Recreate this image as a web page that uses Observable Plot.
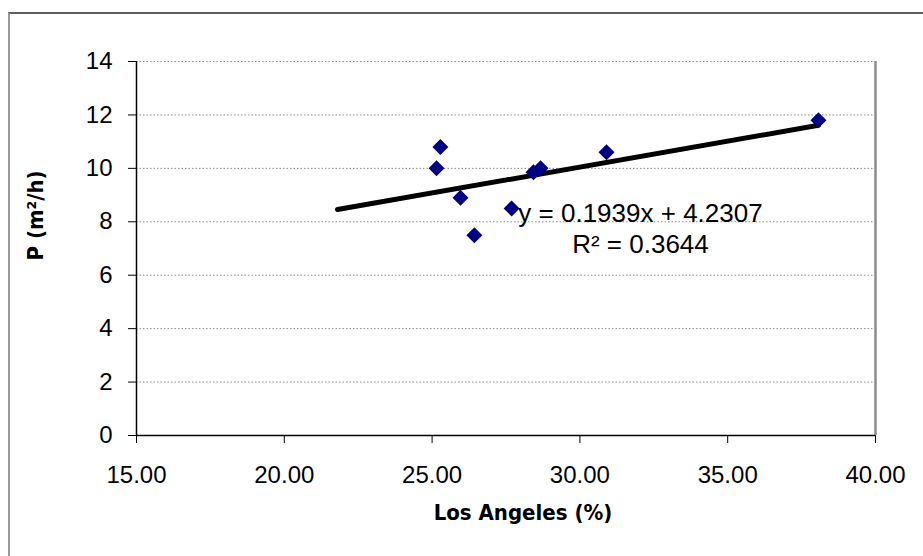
<!DOCTYPE html>
<html>
<head>
<meta charset="utf-8">
<script src="https://cdn.jsdelivr.net/npm/d3@7"></script>
<script src="https://cdn.jsdelivr.net/npm/@observablehq/plot@0.6"></script>
<style>
  html, body { margin: 0; padding: 0; background: #fff; }
  #wrap { position: relative; width: 923px; height: 556px; overflow: hidden; }
  #wrap svg { position: absolute; left: 0; top: 0; }
  #border { position: absolute; left: 8px; top: 12px; width: 1000px; height: 700px;
            border-left: 2px solid #9a9a9a; border-top: 2px solid #5e5e5e; pointer-events: none; }
</style>
</head>
<body>
<div id="wrap"><div id="border"></div></div>
<script>
// Data
const losAngeles = [25.15, 25.28, 25.96, 26.43, 27.69, 28.43, 28.67, 30.90, 38.07];
const pValues    = [10.0, 10.8, 8.9, 7.5, 8.5, 9.85, 10.0, 10.6, 11.8];
const xTicks = [15, 20, 25, 30, 35, 40];
const yTicks = [0, 2, 4, 6, 8, 10, 12, 14];
const gridValues = [2, 4, 6, 8, 10, 12, 14];
const slope = 0.1939, intercept = 4.2307, rSquared = 0.3644;
const trendRange = [21.8, 38.07];
const xTitle = "Los Angeles (%)";
const yTitle = "P (m²/h)";

const points = losAngeles.map((x, i) => ({x, y: pValues[i]}));
const trend = trendRange.map(x => ({x, y: slope * x + intercept}));
const eqText = `y = ${slope}x + ${intercept}\nR² = ${rSquared}`;

const titleFont = "'DejaVu Sans Condensed', 'DejaVu Sans', Verdana, sans-serif";

const chart = Plot.plot({
  width: 923,
  height: 556,
  marginLeft: 136,
  marginRight: 48,
  marginTop: 61,
  marginBottom: 121,
  style: {fontFamily: "'Liberation Sans', Arial, sans-serif", fontSize: "24px", background: "transparent", color: "#000"},
  x: {domain: [15, 40], label: null},
  y: {domain: [0, 14], label: null},
  marks: [
    Plot.ruleY(gridValues, {stroke: "#8a8a8a", strokeDasharray: "1.5,2", strokeWidth: 1}),
    Plot.ruleX([40], {stroke: "#8c8c8c", strokeWidth: 2.5}),
    Plot.axisX({ticks: xTicks, tickFormat: d3.format(".2f"), tickSize: 8, tickPadding: 22, stroke: "#000", fontSize: 24}),
    Plot.axisY({ticks: yTicks, tickFormat: d => String(d), tickSize: 8, tickPadding: 16, stroke: "#000", fontSize: 24}),
    Plot.ruleY([0], {stroke: "#000", strokeWidth: 1.5}),
    Plot.ruleX([15], {stroke: "#000", strokeWidth: 1.5}),
    Plot.line(trend, {x: "x", y: "y", stroke: "#000", strokeWidth: 5}),
    Plot.dot(points, {x: "x", y: "y", symbol: "diamond2", r: 7.2, fill: "#000080", stroke: "none"}),
    Plot.text([eqText], {x: 32.05, y: 8.3, text: d => d, lineHeight: 1.2, fontSize: 26, textAnchor: "middle", lineAnchor: "middle", fill: "#000", dy: 14}),
    Plot.text([xTitle], {frameAnchor: "bottom", dy: 84, dx: 17, text: d => d, fontSize: 22, fontWeight: "bold", fontFamily: titleFont, fill: "#000"}),
    Plot.text([yTitle], {frameAnchor: "left", dx: -101, dy: 12, rotate: -90, text: d => d, fontSize: 22, fontWeight: "bold", fontFamily: titleFont, fill: "#000"})
  ]
});
document.getElementById("wrap").insertBefore(chart, document.getElementById("border"));
</script>
</body>
</html>
